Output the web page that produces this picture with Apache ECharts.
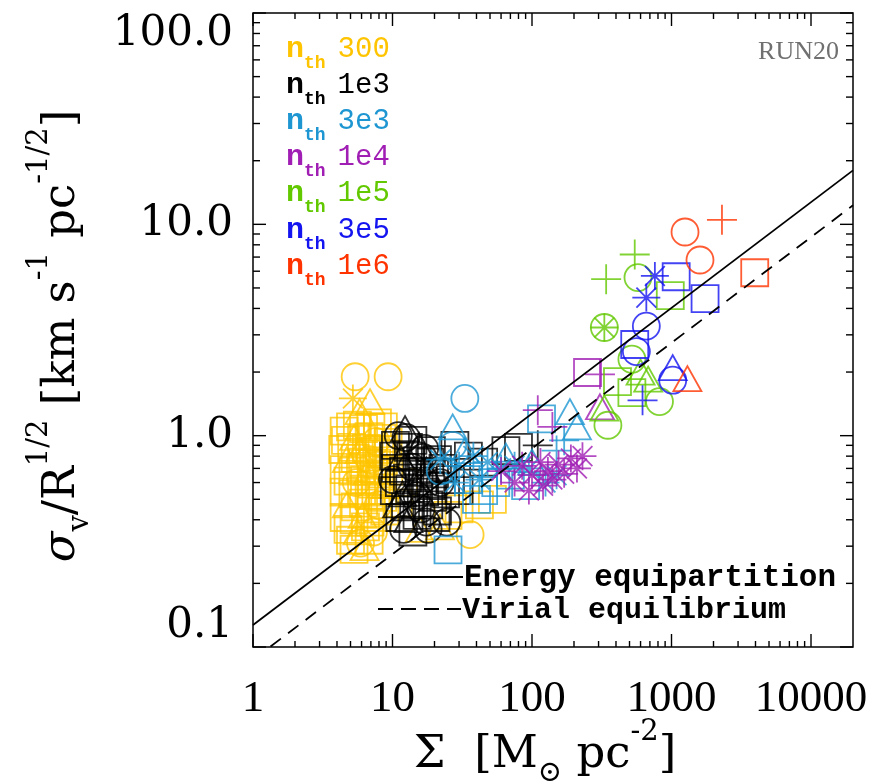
<!DOCTYPE html>
<html><head><meta charset="utf-8">
<script src="https://cdn.jsdelivr.net/npm/echarts@6/dist/echarts.min.js"></script>
<style>html,body{margin:0;padding:0;background:#fff}#c{width:887px;height:784px}</style>
</head><body><div id="c"></div>
<script>
// ---- axis ranges and tick labels ----
const X_MIN = 1, X_MAX = 20000, Y_MIN = 0.1, Y_MAX = 100;
const xTickLabels = ['1', '10', '100', '1000', '10000'];   // 10^0 .. 10^4
const yTickLabels = ['0.1', '1.0', '10.0', '100.0'];       // 10^-1 .. 10^2
const xMajorTicks = [1, 10, 100, 1000, 10000];
const yMajorTicks = [0.1, 1, 10, 100];
const mantissas = [2, 3, 4, 5, 6, 7, 8, 9];

// ---- legend ----
const groupNames = ['300', '1e3', '3e3', '1e4', '1e5', '3e5', '1e6'];
const groupColors = ['#FFC400', '#000000', '#1E96D2', '#A01EB4', '#62C800', '#1414F0', '#FF3300'];

// ---- data: [Sigma, sigma_v/R^1/2, symbol]  o circle, t triangle, s square, + plus, * asterisk ----
const nth300 = [
  [5.4,1.9,'o'],[9.3,1.9,'o'],[5.2,1.5,'*'],[6.9,1.45,'t'],[5.8,1.3,'t'],
  [4.5,1.05,'s'],[5.0,1.1,'s'],[5.6,1.12,'s'],[6.2,1.08,'s'],[7.0,1.1,'s'],[7.8,1.15,'s'],[8.6,1.1,'s'],
  [4.6,0.95,'s'],[5.3,0.98,'t'],[6.0,0.96,'s'],[6.8,0.99,'s'],[7.6,0.94,'o'],[8.4,0.97,'s'],[9.3,0.93,'s'],
  [4.4,0.86,'s'],[5.1,0.88,'s'],[5.8,0.85,'t'],[6.5,0.87,'s'],[7.3,0.84,'s'],[8.1,0.86,'s'],[9.0,0.82,'s'],
  [4.7,0.77,'t'],[5.4,0.78,'s'],[6.1,0.75,'s'],[6.9,0.77,'o'],[7.7,0.74,'s'],[8.6,0.76,'s'],
  [4.5,0.69,'s'],[5.2,0.68,'s'],[5.9,0.70,'s'],[6.6,0.67,'t'],[7.4,0.69,'s'],[8.3,0.66,'s'],[9.4,0.68,'s'],
  [4.8,0.61,'s'],[5.5,0.60,'o'],[6.3,0.62,'s'],[7.1,0.59,'s'],[8.0,0.61,'s'],[8.9,0.58,'t'],
  [4.5,0.54,'s'],[5.2,0.53,'s'],[6.0,0.55,'s'],[6.8,0.52,'s'],[7.6,0.54,'s'],[8.5,0.51,'s'],
  [4.7,0.47,'t'],[5.4,0.46,'s'],[6.2,0.48,'s'],[7.0,0.45,'s'],[7.9,0.47,'o'],[8.8,0.44,'s'],
  [4.5,0.41,'s'],[5.3,0.40,'s'],[6.1,0.42,'t'],[6.9,0.39,'s'],[7.8,0.41,'s'],
  [4.8,0.36,'s'],[5.6,0.35,'t'],[6.4,0.37,'s'],[7.3,0.35,'o'],
  [5.0,0.32,'s'],[5.9,0.31,'o'],[6.8,0.32,'s'],[5.3,0.29,'s'],[6.3,0.295,'t'],
  [15.7,0.36,'t'],[21.9,0.37,'t'],[36,0.34,'o'],[42,0.47,'s'],[52,0.50,'s'],[30,0.45,'s'],[25,0.42,'s'],[11,0.48,'s'],[12,0.60,'s']
];
const nth1e3 = [
  [12.3,1.08,'t'],[11,1.0,'o'],[12.5,0.98,'o'],[14,0.95,'s'],[10.5,0.9,'s'],[13,0.88,'s'],[15.5,0.9,'t'],[17,0.87,'o'],[19,0.85,'s'],
  [10.2,0.8,'s'],[11.5,0.78,'t'],[13.5,0.8,'s'],[15,0.76,'s'],[16.5,0.79,'o'],[18.5,0.75,'s'],[21,0.77,'s'],
  [10.5,0.7,'s'],[12,0.68,'s'],[13.8,0.71,'o'],[15.5,0.67,'s'],[17.5,0.69,'t'],[20,0.66,'s'],[23,0.7,'s'],
  [10,0.62,'o'],[11.2,0.6,'s'],[12.8,0.63,'s'],[14.5,0.59,'t'],[16.5,0.61,'s'],[18.8,0.58,'s'],[22,0.6,'o'],[26,0.62,'s'],
  [10.3,0.55,'s'],[11.8,0.53,'t'],[13.3,0.56,'s'],[15,0.52,'o'],[17,0.54,'s'],[19.5,0.51,'s'],[24,0.53,'s'],[30,0.55,'s'],
  [10.8,0.47,'t'],[12.4,0.46,'s'],[14.2,0.48,'s'],[16,0.45,'o'],[18.2,0.47,'s'],[21,0.44,'s'],
  [11.3,0.41,'s'],[13,0.4,'t'],[15,0.42,'s'],[17.5,0.39,'o'],[20.5,0.41,'s'],
  [12,0.36,'o'],[14,0.35,'s'],[18,0.36,'o'],[24.5,0.39,'o'],
  [35,0.8,'s'],[45,0.75,'s'],[65,0.85,'s'],[80,0.88,'s'],[110,0.9,'+'],[28,0.9,'s']
];
const nth3e3 = [
  [33,1.5,'o'],[27,1.1,'t'],[117,1.2,'s'],[187,1.3,'t'],[25,0.288,'s'],[170,0.95,'+'],[150,0.85,'+'],
  [22,0.77,'*'],[30,0.72,'*'],[38,0.8,'*'],[48,0.75,'*'],[60,0.7,'*'],[75,0.72,'*'],[95,0.7,'*'],[125,0.6,'*'],[150,0.65,'*'],[42,0.62,'*'],[28,0.6,'*'],
  [35,0.62,'s'],[45,0.55,'s'],[55,0.6,'s'],[70,0.65,'s'],[90,0.58,'s'],[40,0.5,'s'],
  [33,0.85,'t'],[65,0.8,'t'],[100,0.75,'t'],[210,1.1,'t'],[22,0.68,'o'],[27,0.9,'o']
];
const nth1e4 = [
  [250,1.99,'s'],[307,1.95,'+'],[110,1.32,'+'],[307,1.37,'t'],[140,1.1,'+'],
  [60,0.68,'*'],[75,0.6,'*'],[85,0.72,'*'],[100,0.65,'*'],[115,0.75,'*'],[130,0.68,'*'],[140,0.62,'*'],
  [155,0.73,'*'],[170,0.66,'*'],[190,0.78,'*'],[210,0.7,'*'],[95,0.55,'*'],[120,0.58,'*'],[230,0.8,'*']
];
const nth1e5 = [
  [545,7.2,'+'],[340,5.5,'+'],[575,5.6,'o'],[980,4.6,'s'],[330,3.25,'o'],[330,3.25,'*'],[520,2.3,'o'],
  [410,1.8,'s'],[680,1.85,'t'],[820,1.45,'o'],[350,1.12,'o'],[330,1.35,'t'],[600,2.0,'t'],[520,1.6,'s']
];
const nth3e5 = [
  [760,5.7,'*'],[1080,5.65,'s'],[660,4.5,'*'],[1740,4.45,'s'],[660,3.3,'o'],[545,2.7,'s'],
  [1020,2.1,'t'],[1020,1.83,'o'],[620,1.47,'+'],[560,2.5,'o']
];
const nth1e6 = [
  [2300,10.5,'+'],[1250,9.2,'o'],[1600,6.78,'o'],[3950,5.9,'s'],[1300,1.86,'t']
];
const groups = [nth300, nth1e3, nth3e3, nth1e4, nth1e5, nth3e5, nth1e6];

// ---- reference relations ----
const energyLine = [[1, 0.127], [20000, 18.0]];
const virialLine = [[1, 0.087], [20000, 12.3]];

// ---- rendering ----
const SYM = {
  o: 'circle', t: 'triangle', s: 'rect',
  '+': 'path://M0,5L10,5M5,0L5,10',
  '*': 'path://M5,0L5,10M0,5L10,5M1.46,1.46L8.54,8.54M1.46,8.54L8.54,1.46'
};
const SIZE = { o: 27, t: [28, 25], s: 27, '+': 30, '*': 28 };
const toItems = arr => arr.map(d => ({ value: [d[0], d[1]], symbol: SYM[d[2]], symbolSize: SIZE[d[2]] }));

// tick marks (major + minor) as [x, y, length, kind]
const tickData = [];
xMajorTicks.forEach(d => {
  tickData.push([d, Y_MIN, 13, 0]);
  mantissas.forEach(m => { if (m * d < X_MAX) tickData.push([m * d, Y_MIN, 6, 0]); });
});
yMajorTicks.forEach(d => {
  tickData.push([X_MIN, d, 13, 1]);
  if (d < Y_MAX) mantissas.forEach(m => tickData.push([X_MIN, m * d, 7, 1]));
});

function labelFor(v, labels, e0) {
  const l = Math.log10(v), e = Math.round(l);
  if (Math.abs(l - e) > 1e-6) return '';
  return labels[e - e0] || '';
}

const chart = echarts.init(document.getElementById('c'), null, { renderer: 'canvas' });

const scatterSeries = groups.map((g, i) => ({
  type: 'scatter', name: groupNames[i], data: toItems(g),
  itemStyle: { color: 'rgba(0,0,0,0)', borderColor: groupColors[i], borderWidth: 1.8 },
  emphasis: { disabled: true }, z: 2 + i, animation: false
}));

const legendGraphics = groupNames.map((n, i) => ({
  type: 'text', x: 286, y: 53 + i * 36.2,
  style: {
    text: '{n|n}{t|th}{v|' + n + '}', verticalAlign: 'middle',
    rich: {
      n: { fontFamily: 'Liberation Mono', fontWeight: 'bold', fontSize: 30, fill: groupColors[i], padding: [0, 0, 8, 0] },
      t: { fontFamily: 'Liberation Mono', fontSize: 18, fontWeight: 'bold', fill: groupColors[i], verticalAlign: 'bottom', padding: [0, 12, 0, 0] },
      v: { fontFamily: 'Liberation Mono', fontSize: 29, fill: groupColors[i], padding: [0, 0, 8, 0] }
    }
  }
}));

const titleRich = {
  b: { fontFamily: 'DejaVu Serif', fontSize: 45, fill: '#000', padding: [15, 0, 10, 0] },
  i: { fontFamily: 'DejaVu Serif', fontStyle: 'italic', fontSize: 45, fill: '#000', padding: [15, 0, 10, 0] },
  sup: { fontFamily: 'DejaVu Serif', fontSize: 29, fill: '#000', verticalAlign: 'top' },
  sub: { fontFamily: 'DejaVu Serif', fontSize: 29, fill: '#000', verticalAlign: 'bottom' }
};

chart.setOption({
  animation: false,
  backgroundColor: '#fff',
  grid: { left: 253, right: 34, top: 13, bottom: 137, show: true, borderColor: '#000', borderWidth: 1.5,
          backgroundColor: 'rgba(0,0,0,0)', containLabel: false, outerBoundsMode: 'none' },
  xAxis: {
    type: 'log', logBase: 10, min: X_MIN, max: X_MAX,
    axisLine: { show: false }, axisTick: { show: false }, splitLine: { show: false },
    axisLabel: { margin: 30, fontFamily: 'Liberation Serif', fontSize: 45, color: '#000',
                 formatter: v => labelFor(v, xTickLabels, 0) }
  },
  yAxis: {
    type: 'log', logBase: 10, min: Y_MIN, max: Y_MAX,
    axisLine: { show: false }, axisTick: { show: false }, splitLine: { show: false },
    axisLabel: { margin: 20, fontFamily: 'DejaVu Serif', fontSize: 42, color: '#000',
                 verticalAlignMinLabel: 'bottom', verticalAlignMaxLabel: 'top',
                 formatter: v => labelFor(v, yTickLabels, -1) }
  },
  series: [
    ...scatterSeries,
    { type: 'line', data: energyLine, symbol: 'none', lineStyle: { color: '#000', width: 1.8 }, z: 20, silent: true },
    { type: 'line', data: virialLine, symbol: 'none', lineStyle: { color: '#000', width: 1.8, type: [13, 9] }, z: 20, silent: true },
    {
      type: 'custom', data: tickData, encode: { x: 0, y: 1 }, z: 30, silent: true,
      renderItem: function (params, api) {
        const len = api.value(2), kind = api.value(3);
        const st = { stroke: '#000', lineWidth: 1.4 };
        if (kind === 0) {
          const b = api.coord([api.value(0), Y_MIN]), t = api.coord([api.value(0), Y_MAX]);
          return { type: 'group', children: [
            { type: 'line', shape: { x1: b[0], y1: b[1], x2: b[0], y2: b[1] - len }, style: st },
            { type: 'line', shape: { x1: t[0], y1: t[1], x2: t[0], y2: t[1] + len }, style: st }
          ] };
        }
        const l = api.coord([X_MIN, api.value(1)]), r = api.coord([X_MAX, api.value(1)]);
        return { type: 'group', children: [
          { type: 'line', shape: { x1: l[0], y1: l[1], x2: l[0] + len, y2: l[1] }, style: st },
          { type: 'line', shape: { x1: r[0], y1: r[1], x2: r[0] - len, y2: r[1] }, style: st }
        ] };
      }
    }
  ],
  graphic: [
    ...legendGraphics,
    { type: 'text', x: 839, y: 52, style: { text: 'RUN20', align: 'right', verticalAlign: 'middle',
      fontFamily: 'Liberation Serif', fontSize: 26, fill: '#707070' } },
    { type: 'line', shape: { x1: 378, y1: 577, x2: 463, y2: 577 }, style: { stroke: '#000', lineWidth: 1.8 } },
    { type: 'text', x: 464, y: 578, style: { text: 'Energy equipartition', verticalAlign: 'middle',
      fontFamily: 'Liberation Mono', fontWeight: 'bold', fontSize: 31, fill: '#000' } },
    { type: 'line', shape: { x1: 378, y1: 609, x2: 461, y2: 609 }, style: { stroke: '#000', lineWidth: 1.8, lineDash: [15, 8] } },
    { type: 'text', x: 462, y: 610, style: { text: 'Virial equilibrium', verticalAlign: 'middle',
      fontFamily: 'Liberation Mono', fontWeight: 'bold', fontSize: 30, fill: '#000' } },
    { type: 'text', x: 545, y: 753, style: { text: '{b|Σ  [M}{sub|⊙}{b| pc}{sup|-2}{b|]}', align: 'center',
      verticalAlign: 'middle', rich: titleRich } },
    { type: 'text', x: 60, y: 336, rotation: Math.PI / 2, style: {
      text: '{i|σ}{sub|v}{b|/R}{sup|1/2}{b| [km s}{sup|-1}{b| pc}{sup|-1/2}{b|]}', align: 'center',
      verticalAlign: 'middle', rich: titleRich } }
  ]
});
</script></body></html>
